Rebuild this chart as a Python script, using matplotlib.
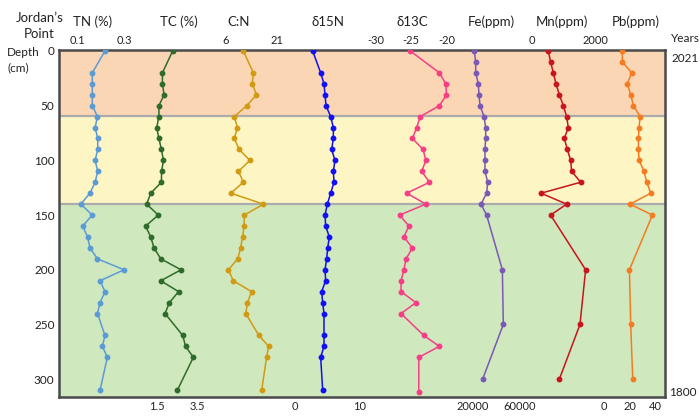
import numpy as np
import matplotlib
matplotlib.use("Agg")
import matplotlib.pyplot as plt

plt.rcParams['font.family'] = ['Lato', 'DejaVu Sans']

# Sampling depths (cm)
depth_core = [0, 20, 30, 40, 50, 60, 70, 80, 90, 100, 110, 120, 130, 140, 150, 160,
              170, 180, 190, 200, 210, 220, 230, 240, 260, 270, 280, 310]
depth_d13c = [0, 20, 30, 40, 50, 60, 70, 80, 90, 100, 110, 120, 130, 140, 150, 160,
              170, 180, 190, 200, 210, 220, 230, 240, 260, 270, 280, 312]
depth_metal = [0, 10, 20, 30, 40, 50, 60, 70, 80, 90, 100, 110, 120, 130, 140, 150,
               200, 250, 300]

tn = [0.219, 0.165, 0.165, 0.165, 0.165, 0.187, 0.177, 0.188, 0.188, 0.177, 0.188,
      0.177, 0.155, 0.116, 0.165, 0.124, 0.145, 0.155, 0.187, 0.300, 0.198, 0.219,
      0.198, 0.187, 0.219, 0.208, 0.229, 0.198]
tc = [2.28, 1.78, 1.78, 1.86, 1.61, 1.61, 1.50, 1.61, 1.73, 1.83, 1.74, 1.73, 1.21,
      1.01, 1.58, 0.96, 1.21, 1.37, 1.70, 2.69, 1.70, 2.57, 2.12, 1.91, 2.77, 2.91,
      3.29, 2.51]
cn = [11.2, 14.1, 13.8, 15.0, 12.2, 8.6, 9.5, 8.6, 10.0, 13.1, 9.8, 11.2, 7.6, 17.0,
      11.5, 11.4, 11.0, 10.4, 9.6, 6.9, 8.3, 13.6, 12.4, 11.9, 15.7, 18.5, 17.9, 16.5]
d15n = [2.72, 3.95, 4.46, 4.62, 4.77, 5.49, 5.90, 5.90, 5.64, 6.15, 5.90, 6.00, 5.49,
        4.97, 4.62, 4.72, 5.28, 5.03, 4.87, 4.62, 4.72, 4.10, 4.26, 4.46, 4.46, 4.46,
        3.95, 4.26]
d13c = [-25.1, -21.0, -20.1, -20.0, -21.0, -23.7, -24.2, -24.8, -23.3, -22.9, -23.5,
        -22.4, -25.6, -22.9, -26.6, -25.3, -26.0, -24.8, -25.7, -26.0, -26.4, -26.4,
        -24.3, -26.4, -23.2, -21.0, -23.9, -23.9]
fe = [21100, 22300, 22300, 24500, 25100, 26000, 29400, 30800, 30800, 30200, 30200,
      30200, 32500, 31600, 26800, 31600, 45000, 45800, 28200]
mn = [518, 592, 677, 762, 868, 995, 1100, 1153, 1026, 1121, 1227, 1259, 1545, 286,
      1100, 592, 1703, 1523, 868]
pb = [14.0, 14.0, 21.3, 17.9, 20.5, 22.6, 27.8, 27.0, 26.5, 26.5, 27.0, 30.9, 33.0,
      36.1, 20.0, 37.4, 19.5, 20.5, 22.1]

# zone boundaries (cm)
zones = [(0, 59, '#FBD6B4'), (59, 140, '#FDF6C4'), (140, 330, '#D0E8BE')]

# (label, depths, values, colour, x-limits, ticks, tick side, label centre px)
series = [
    ('TN (%)', depth_core, tn, '#5B9BD5', (0.022, 2.602), [0.1, 0.3], 'top', 93),
    ('TC (%)', depth_core, tc, '#2F6B2A', (-3.28, 26.3), [1.5, 3.5], 'bottom', 179),
    ('C:N', depth_core, cn, '#D09A12', (-42.06, 132.85), [6, 21], 'top', 239),
    ('δ15N', depth_core, d15n, '#1010F0', (-36.35, 56.92), [0, 10], 'bottom', 328),
    ('δ13C', depth_d13c, d13c, '#F43F86', (-74.61, 10.77), [-30, -25, -20], 'top', 412),
    ('Fe(ppm)', depth_metal, fe, '#7A58B6', (-332570, 183400), [20000, 60000], 'bottom', 491),
    ('Mn(ppm)', depth_metal, mn, '#C8141E', (-15027, 4223), [0, 2000], 'top', 562),
    ('Pb(ppm)', depth_metal, pb, '#F57B20', (-424.7, 47.2), [0, 20, 40], 'bottom', 636),
]

W, H = 700, 416
fig = plt.figure(figsize=(7, 4.16), dpi=100)
ax = fig.add_axes([58.7 / W, 1 - 396.7 / H, (665 - 58.7) / W, (396.7 - 50.3) / H])

for top, bot, col in zones:
    ax.axhspan(top, bot, color=col, zorder=0, lw=0)
for b in [59, 140]:
    ax.axhline(b, color='#ABABAB', lw=1.6, zorder=1)

ax.set_ylim(316, -0.6)
ax.set_xticks([])
ax.set_yticks([0, 50, 100, 150, 200, 250, 300])
ax.tick_params(axis='y', length=0, labelsize=8.5, pad=3, labelcolor='#222222')
for s in ax.spines.values():
    s.set_color('#4A4A4A')
    s.set_linewidth(1.8)
    s.set_zorder(10)

for label, d, v, col, xl, ticks, side, cx in series:
    tw = ax.twiny()
    tw.set_xlim(*xl)
    tw.plot(v, d, color=col, lw=1.1, marker='o', ms=3.2, zorder=5)
    tw.set_xticks(ticks)
    tw.set_xticklabels([str(t) for t in ticks])
    tw.xaxis.set_ticks_position(side)
    tw.xaxis.set_label_position(side)
    tw.tick_params(axis='x', length=0, labelsize=8, pad=3, labelcolor='#222222')
    for s in tw.spines.values():
        s.set_visible(False)
    fig.text(cx / W, 1 - 22 / H, label, ha='center', va='center', fontsize=9.5,
             color='#222222')

# side annotations
fig.text(40 / W, 1 - 18 / H, "Jordan’s", ha='center', va='center', fontsize=9.5, color='#222222')
fig.text(39 / W, 1 - 34 / H, 'Point', ha='center', va='center', fontsize=9.5, color='#222222')
fig.text(7 / W, 1 - 52 / H, 'Depth', ha='left', va='center', fontsize=8.5, color='#222222')
fig.text(7 / W, 1 - 68 / H, '(cm)', ha='left', va='center', fontsize=8.5, color='#222222')
fig.text(685 / W, 1 - 39 / H, 'Years', ha='center', va='center', fontsize=8.5, color='#222222')
fig.text(685 / W, 1 - 59 / H, '2021', ha='center', va='center', fontsize=8.5, color='#222222')
fig.text(683 / W, 1 - 393 / H, '1800', ha='center', va='center', fontsize=8.5, color='#222222')

fig.savefig('out.png', dpi=100)
